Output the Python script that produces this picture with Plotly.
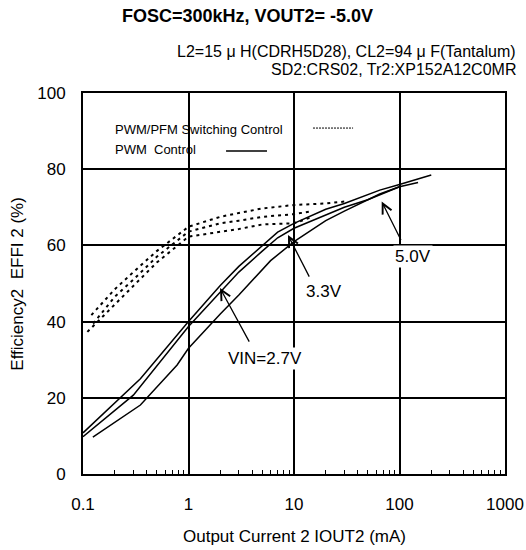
import numpy as np
import plotly.graph_objects as go

# ---- data ----
# PWM control (solid)
pwm_a_x = [0.1, 0.35, 1, 2, 3, 5, 7, 10, 20, 30, 65, 100, 200]
pwm_a_y = [10.8, 25, 40, 49.5, 54.5, 60, 63.5, 65.8, 69.5, 71, 74.5, 76, 78.5]
pwm_b_x = [0.1, 0.3, 1, 2, 3, 5, 7, 10, 20, 30, 50, 100, 150]
pwm_b_y = [9.8, 20.7, 38.7, 47.8, 53, 58.5, 62, 64.5, 68, 70, 72, 75.4, 76.5]
pwm_c_x = [0.124, 0.35, 0.78, 1, 2, 3, 6, 10, 20, 30, 65, 100]
pwm_c_y = [9.7, 18.1, 28.6, 33, 42, 47, 56, 61, 66.5, 69, 73.5, 75.4]

# PWM/PFM switching control (dotted)
pfm_a_x = [0.12, 0.2, 0.3, 0.5, 1, 2, 3, 5, 10, 20, 30]
pfm_a_y = [41.7, 48.5, 53, 58.5, 64.9, 67.5, 68.5, 69.7, 70.6, 71, 71.5]
pfm_b_x = [0.125, 0.2, 0.3, 0.5, 1, 2, 3, 5, 10, 15]
pfm_b_y = [39.5, 46.5, 51, 57, 63.6, 65.8, 66.5, 67.5, 68.2, 69]
pfm_c_x = [0.11, 0.2, 0.3, 0.5, 1, 2, 3, 5, 10, 15]
pfm_c_y = [37.3, 44.5, 49.5, 55.5, 62.3, 63.5, 64.3, 65.5, 65.8, 67.5]

x_tick_vals = [0.1, 1, 10, 100, 1000]
x_tick_text = ["0.1", "1", "10", "100", "1000"]
y_tick_vals = [0, 20, 40, 60, 80, 100]

title_text = "<b>FOSC=300kHz, VOUT2= -5.0V</b>"
sub1 = "L2=15 \u03bc H(CDRH5D28), CL2=94 \u03bc F(Tantalum)"
sub2 = "SD2:CRS02, Tr2:XP152A12C0MR"
x_title = "Output Current 2 IOUT2 (mA)"
y_title = "Efficiency2  EFFI 2 (%)"
legend1 = "PWM/PFM Switching Control"
legend2 = "PWM  Control"

FONT = "Liberation Sans, Arial, sans-serif"

fig = go.Figure()
for xs, ys in [(pwm_a_x, pwm_a_y), (pwm_b_x, pwm_b_y), (pwm_c_x, pwm_c_y)]:
    fig.add_trace(go.Scatter(x=xs, y=ys, mode="lines",
                             line=dict(color="black", width=1.5), showlegend=False))
for xs, ys in [(pfm_a_x, pfm_a_y), (pfm_b_x, pfm_b_y), (pfm_c_x, pfm_c_y)]:
    fig.add_trace(go.Scatter(x=xs, y=ys, mode="lines",
                             line=dict(color="black", width=2, dash="3px,4px"), showlegend=False))

minor_vals = [m * 10.0 ** d for d in range(-1, 3) for m in range(2, 10)]

fig.update_layout(
    width=526, height=550,
    margin=dict(l=83, r=21, t=93, b=76),
    paper_bgcolor="white", plot_bgcolor="white",
    font=dict(family=FONT, size=17, color="black"),
    xaxis=dict(type="log", range=[-1, 3], tickvals=x_tick_vals, ticktext=x_tick_text,
               showgrid=True, gridcolor="black", gridwidth=1.5, automargin=False,
               showline=True, linecolor="black", linewidth=2, mirror=True,
               ticks="", ticklabelstandoff=14, zeroline=False,
               minor=dict(tickvals=minor_vals, ticks="inside", ticklen=4,
                          tickcolor="black", tickwidth=1, showgrid=False)),
    yaxis=dict(range=[0, 100], tickvals=y_tick_vals, automargin=False,
               showgrid=True, gridcolor="black", gridwidth=1.5,
               showline=True, linecolor="black", linewidth=2, mirror=True,
               ticks="", ticklabelstandoff=12, zeroline=False),
)

# legend box (white, covers grid) and samples
fig.add_shape(type="rect", xref="paper", yref="paper", x0=0.04, x1=0.656, y0=0.811, y1=0.934,
              fillcolor="white", line=dict(width=0), layer="between")
fig.add_shape(type="line", xref="paper", yref="paper", x0=0.545, x1=0.640, y0=0.908, y1=0.908,
              line=dict(color="black", width=1, dash="2px,1px"))
fig.add_shape(type="line", xref="paper", yref="paper", x0=0.339, x1=0.436, y0=0.848, y1=0.848,
              line=dict(color="black", width=1.5))

ann = []
ann.append(dict(text=legend1, xref="paper", yref="paper", x=0.071, y=0.903,
                xanchor="left", yanchor="middle", showarrow=False, font=dict(size=13)))
ann.append(dict(text=legend2, xref="paper", yref="paper", x=0.071, y=0.853,
                xanchor="left", yanchor="middle", showarrow=False, font=dict(size=13)))
# titles
ann.append(dict(text=title_text, xref="paper", yref="paper", x=0.389, y=1.202,
                xanchor="center", yanchor="middle", showarrow=False, font=dict(size=18)))
ann.append(dict(text=sub1, xref="paper", yref="paper", x=1.031, y=1.110,
                xanchor="right", yanchor="middle", showarrow=False, font=dict(size=16)))
ann.append(dict(text=sub2, xref="paper", yref="paper", x=1.031, y=1.062,
                xanchor="right", yanchor="middle", showarrow=False, font=dict(size=16)))
ann.append(dict(text=x_title, xref="paper", yref="paper", x=0.5, y=-0.165,
                xanchor="center", yanchor="middle", showarrow=False, font=dict(size=17)))
ann.append(dict(text=y_title, xref="paper", yref="paper", x=-0.156, y=0.5, textangle=-90,
                xanchor="center", yanchor="middle", showarrow=False, font=dict(size=17)))
# curve labels
ann.append(dict(text="VIN=2.7V", x=0.725, y=30.4, showarrow=False, bgcolor="white",
                font=dict(size=17)))
ann.append(dict(text="3.3V", x=1.284, y=47.8, showarrow=False, font=dict(size=17)))
ann.append(dict(text="5.0V", x=2.128, y=57.2, showarrow=False, bgcolor="white",
                font=dict(size=17)))
# arrows
arrow_style = dict(text="", showarrow=True, arrowhead=5, arrowsize=1.5, arrowwidth=1.3,
                   arrowcolor="black", axref="pixel", ayref="pixel")
for hx, hy, axp, ayp in [(np.log10(1.99), 48.8, 30, 55),
                         (np.log10(8.77), 62.7, 22, 43),
                         (np.log10(67.8), 71.5, 20, 40),
                         (2.0, 75.5, 4, 1)]:
    a = dict(arrow_style)
    a.update(x=hx, y=hy, ax=axp, ay=ayp)
    ann.append(a)

fig.update_layout(annotations=ann)
fig.write_html("out.html",
               config={"displayModeBar": False},
               post_script="document.body.style.margin='0';document.body.style.overflow='hidden';")
